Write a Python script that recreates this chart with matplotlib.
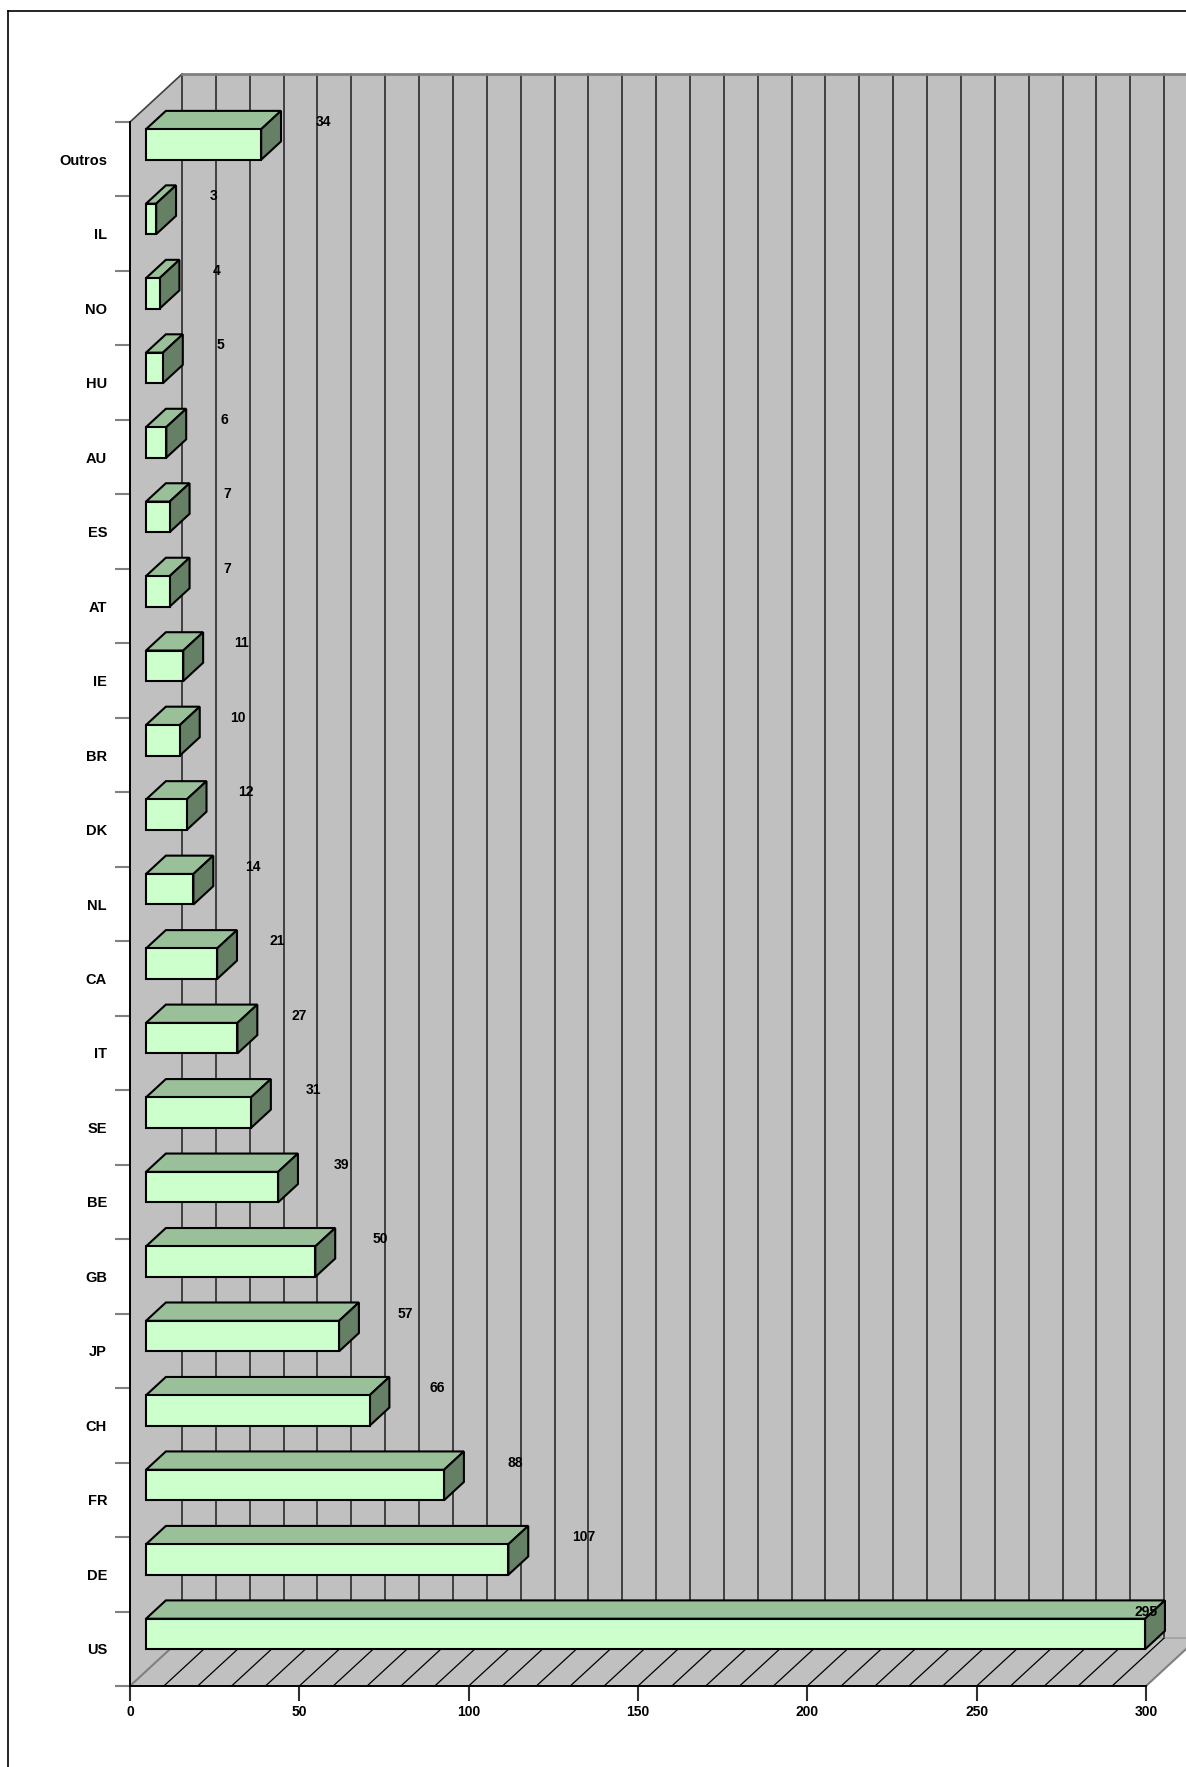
import matplotlib
matplotlib.use("Agg")
import matplotlib.pyplot as plt
from matplotlib.patches import Polygon, Rectangle
from matplotlib.lines import Line2D

# Patents by country (bottom to top)
categories = ["US", "DE", "FR", "CH", "JP", "GB", "BE", "SE", "IT", "CA", "NL",
              "DK", "BR", "IE", "AT", "ES", "AU", "HU", "NO", "IL", "Outros"]
values = [295, 107, 88, 66, 57, 50, 39, 31, 27, 21, 14,
          12, 10, 11, 7, 7, 6, 5, 4, 3, 34]
x_ticks = [0, 50, 100, 150, 200, 250, 300]
x_max = 300
grid_step = 10

plt.rcParams['font.family'] = ['Liberation Sans', 'DejaVu Sans']

W, H = 1186, 1767
fig = plt.figure(figsize=(W / 100, H / 100), dpi=100)
fig.patch.set_facecolor('white')
ax = fig.add_axes([130 / W, 81 / H, 1016 / W, 1564 / H])
n = len(categories)
ax.set_xlim(0, x_max)
ax.set_ylim(-0.5, n - 0.5)
ax.set_facecolor('none')

# oblique projection of the chart depth, in data units
DX = 15.35
DY = 0.644
y0, y1 = -0.5, n - 0.5
wall = '#c0c0c0'

# walls and floor
ax.add_patch(Polygon([(DX, y0 + DY), (x_max + DX, y0 + DY), (x_max + DX, y1 + DY), (DX, y1 + DY)],
                     closed=True, facecolor=wall, edgecolor='none', zorder=0.5, clip_on=False))
ax.add_patch(Polygon([(0, y0), (DX, y0 + DY), (DX, y1 + DY), (0, y1)],
                     closed=True, facecolor=wall, edgecolor='none', zorder=0.5, clip_on=False))
ax.add_patch(Polygon([(0, y0), (x_max, y0), (x_max + DX, y0 + DY), (DX, y0 + DY)],
                     closed=True, facecolor=wall, edgecolor='none', zorder=0.6, clip_on=False))

# vertical gridlines on the back wall
for v in range(0, x_max + 1, grid_step):
    ax.add_line(Line2D([v + DX, v + DX], [y0 + DY, y1 + DY], color='#2a2a2a', lw=1.2,
                       zorder=0.8, clip_on=False))
# floor hatch lines
for v in range(grid_step, x_max, grid_step):
    ax.add_line(Line2D([v, v + DX], [y0, y0 + DY], color='black', lw=0.9,
                       zorder=0.9, clip_on=False))

# wall edges
ax.add_line(Line2D([0, DX], [y1, y1 + DY], color='#404040', lw=1.2, zorder=1, clip_on=False))
ax.add_line(Line2D([DX, x_max + DX], [y1 + DY, y1 + DY], color='#808080', lw=2, zorder=1, clip_on=False))
ax.add_line(Line2D([0, DX], [y0, y0 + DY], color='#808080', lw=1.5, zorder=1, clip_on=False))
ax.add_line(Line2D([x_max, x_max + DX], [y0, y0 + DY], color='#808080', lw=1.5, zorder=1, clip_on=False))
ax.add_line(Line2D([DX, x_max + DX], [y0 + DY, y0 + DY], color='#a0a0a0', lw=1.2, zorder=0.85, clip_on=False))

# 3D bars
h = 0.41
d0, d1 = 0.308, 0.69
front_c, top_c, side_c = '#ccffcc', '#99c099', '#668066'
for i, v in enumerate(values):
    c = i
    fx0, fy0 = d0 * DX, c - h / 2 + d0 * DY
    bx0, by0 = d1 * DX, c - h / 2 + d1 * DY
    ax.add_patch(Polygon([(fx0, fy0 + h), (fx0 + v, fy0 + h), (bx0 + v, by0 + h), (bx0, by0 + h)],
                         closed=True, facecolor=top_c, edgecolor='black', lw=1.5,
                         joinstyle='miter', zorder=3, clip_on=False))
    ax.add_patch(Polygon([(fx0 + v, fy0), (bx0 + v, by0), (bx0 + v, by0 + h), (fx0 + v, fy0 + h)],
                         closed=True, facecolor=side_c, edgecolor='black', lw=1.5,
                         joinstyle='miter', zorder=3, clip_on=False))
    ax.add_patch(Rectangle((fx0, fy0), v, h, facecolor=front_c, edgecolor='black', lw=1.5,
                           joinstyle='miter', zorder=3.1, clip_on=False))
    lx = min(1.05 * v + 21.5, x_max)
    ax.text(lx, c + 0.5, str(v), ha='center', va='center', fontsize=10,
            fontweight='bold', zorder=5, clip_on=False)

# axes and ticks
for s in ('top', 'right'):
    ax.spines[s].set_visible(False)
for s in ('left', 'bottom'):
    ax.spines[s].set_color('black')
    ax.spines[s].set_linewidth(1.4)
    ax.spines[s].set_zorder(2)

ax.set_yticks([k - 0.5 for k in range(n + 1)])
ax.set_yticks(range(n), minor=True)
ax.set_yticklabels(categories, minor=True, fontsize=10.5, fontweight='bold')
ax.tick_params(axis='y', which='major', length=10.8, width=1.5, color='#808080',
               direction='out', labelleft=False)
ax.tick_params(axis='y', which='minor', length=0, pad=16.5)

ax.set_xticks(x_ticks)
ax.set_xticklabels([str(t) for t in x_ticks], fontsize=10, fontweight='bold')
ax.tick_params(axis='x', which='major', length=11, width=1.5, color='#303030',
               direction='out', pad=3)
ax.tick_params(axis='x', which='minor', length=0)

# outer frame
fig.add_artist(Line2D([8 / W, 8 / W], [0, (H - 11) / H], transform=fig.transFigure,
                      color='black', lw=1.2))
fig.add_artist(Line2D([8 / W, 1], [(H - 11) / H, (H - 11) / H], transform=fig.transFigure,
                      color='black', lw=1.2))

fig.savefig('out.png', dpi=100)
